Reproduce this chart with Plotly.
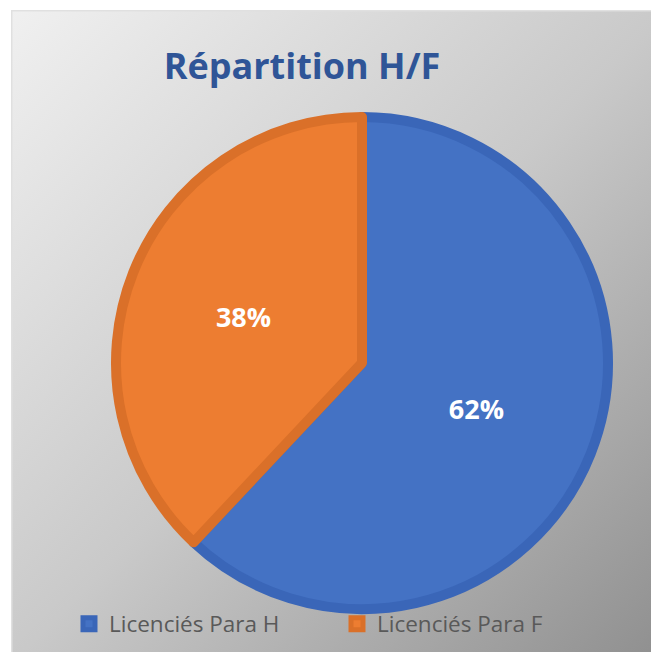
import base64
import plotly.graph_objects as go

# =========================================================
# DATA
# =========================================================
labels = ["Licenciés Para H", "Licenciés Para F"]
values = [62, 38]
fill_colors = ["#4472C4", "#ED7D31"]
edge_colors = ["#3A66B8", "#DA7029"]

title_text = "Répartition H/F"

# =========================================================
# LAYOUT CONSTANTS
# the page body adds an 8px margin, so everything is placed 8px up/left
# =========================================================
W, H = 659, 652
OFF = 8
cx, cy, R = 362 - OFF, 363 - OFF, 246

# =========================================================
# BACKGROUND (diagonal grey gradient, like the Excel chart area)
# =========================================================
svg = """<svg xmlns='http://www.w3.org/2000/svg' width='660' height='660' viewBox='0 0 660 660' preserveAspectRatio='none'>
<defs><linearGradient id='g' x1='0' y1='0' x2='1' y2='1'>
<stop offset='0' stop-color='#F0F0F0'/>
<stop offset='0.5' stop-color='#C9C9C9'/>
<stop offset='1' stop-color='#8E8E8E'/>
</linearGradient></defs>
<rect x='0' y='0' width='660' height='660' fill='url(#g)'/>
<rect x='0.75' y='0.75' width='700' height='700' fill='none' stroke='#E0E0E0' stroke-width='1.5'/>
</svg>"""
bg_uri = "data:image/svg+xml;base64," + base64.b64encode(svg.encode()).decode()

fig = go.Figure()

fig.add_trace(go.Pie(
    labels=labels,
    values=values,
    sort=False,
    direction="clockwise",
    rotation=0,
    marker=dict(colors=fill_colors, line=dict(color=edge_colors, width=10)),
    textinfo="percent",
    texttemplate="%{percent:.0%}",
    textposition="inside",
    insidetextorientation="horizontal",
    textfont=dict(family="Open Sans", size=27, color="white", weight="bold"),
    domain=dict(x=[(cx - R) / W, (cx + R) / W],
                y=[(H - cy - R) / H, (H - cy + R) / H]),
    hoverinfo="label+percent",
))

fig.update_layout(
    width=W,
    height=H,
    margin=dict(l=0, r=0, t=0, b=0),
    paper_bgcolor="white",
    plot_bgcolor="white",
    title=dict(
        text=title_text,
        x=(302 - OFF) / W, xanchor="center",
        y=1 - (66 - OFF) / H, yanchor="middle",
        font=dict(family="Open Sans", size=36, color="#2F5597", weight="bold"),
    ),
    showlegend=True,
    legend=dict(
        orientation="h",
        x=(69 - OFF) / W, xanchor="left",
        y=1 - (624 - OFF) / H, yanchor="middle",
        bgcolor="rgba(0,0,0,0)",
        font=dict(family="Open Sans", size=22.5, color="#595959"),
        entrywidth=223,
        traceorder="normal",
    ),
    images=[dict(
        source=bg_uri,
        xref="paper", yref="paper",
        x=(11 - OFF) / W, y=1 - (10 - OFF) / H,
        sizex=1.0, sizey=1.0,
        xanchor="left", yanchor="top",
        sizing="stretch",
        layer="below",
    )],
)

fig.write_html("out.html")
